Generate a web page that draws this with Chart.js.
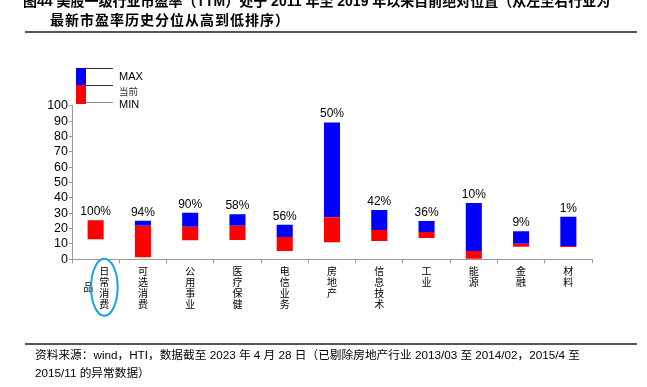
<!DOCTYPE html>
<html><head><meta charset="utf-8">
<script src="https://cdn.jsdelivr.net/npm/chart.js@4.4.0/dist/chart.umd.min.js"></script>
<style>
html,body{margin:0;padding:0;background:#fff;}
#wrap{position:relative;width:647px;height:387px;overflow:hidden;background:#fff;}
canvas{position:absolute;left:0;top:0;}
.t{position:absolute;white-space:nowrap;font-family:"Liberation Sans","Noto Sans CJK SC",sans-serif;color:#000;}
.rule{position:absolute;left:25px;width:612px;height:2px;background:#555;}
</style></head><body>
<div id="wrap">
<canvas id="c" width="647" height="387"></canvas>
<div class="t" style="left:23px;top:-8px;font-size:14px;font-weight:bold;line-height:19px;">图44 美股一级行业市盈率（TTM）处于 2011 年至 2019 年以来目前绝对位置（从左至右行业为</div>
<div class="t" style="left:50px;top:11px;font-size:14px;font-weight:bold;line-height:19px;letter-spacing:1px;">最新市盈率历史分位从高到低排序）</div>
<div class="rule" style="top:31px;"></div>
<div class="rule" style="top:343px;"></div>
<div class="t" style="left:35px;top:346px;font-size:11.7px;line-height:18px;">资料来源：wind，HTI，数据截至 2023 年 4 月 28 日（已剔除房地产行业 2013/03 至 2014/02，2015/4 至<br>2015/11 的异常数据）</div>
</div>
<script>
const categories = ['日常消费品','可选消费','公用事业','医疗保健','电信业务','房地产','信息技术','工业','能源','金融','材料'];
const percentileLabels = ['100%','94%','90%','58%','56%','50%','42%','36%','10%','9%','1%'];
const minValues = [13.0, 1.3, 12.4, 12.6, 5.4, 11.1, 11.9, 13.9, 0.3, 8.2, 8.0];
const currentValues = [25.4, 21.9, 21.2, 21.9, 14.5, 27.3, 19.1, 17.8, 5.4, 10.2, 8.7];
const maxValues = [25.4, 25.1, 30.3, 29.3, 22.5, 89.1, 32.1, 24.9, 36.7, 18.2, 27.7];
const yAxisMin = 0, yAxisMax = 100, yAxisStep = 10;
const legendLabels = ['MAX','当前','MIN'];

const overlay = {
  id: 'overlay',
  afterDraw(chart) {
    const ctx = chart.ctx;
    const x = chart.scales.x, y = chart.scales.y;
    ctx.save();
    // percentile labels above bars
    ctx.fillStyle = '#000';
    ctx.font = '12px "Liberation Sans"';
    ctx.textAlign = 'center';
    ctx.textBaseline = 'alphabetic';
    percentileLabels.forEach((t, i) => {
      ctx.fillText(t, x.getPixelForValue(i), y.getPixelForValue(maxValues[i]) - 5);
    });
    // vertical category labels
    ctx.font = '10px "Noto Sans CJK SC"';
    ctx.textBaseline = 'middle';
    const lh = 11.2, top0 = y.bottom + 11.5;
    categories.forEach((name, i) => {
      const cx = x.getPixelForValue(i);
      let chars = Array.from(name);
      let extra = null, colX = cx;
      if (chars.length > 4) { extra = chars.slice(4); chars = chars.slice(0, 4); colX = cx + 8.7; }
      chars.forEach((ch, k) => ctx.fillText(ch, colX, top0 + k * lh));
      if (extra) extra.forEach((ch, k) => ctx.fillText(ch, cx - 7.3, top0 + 1.45 * lh + k * lh));
      if (i === 0) {
        ctx.beginPath();
        ctx.strokeStyle = '#1aa3e2';
        ctx.lineWidth = 2;
        ctx.ellipse(colX, y.bottom + 28, 13.3, 28.5, 0, 0, Math.PI * 2);
        ctx.stroke();
      }
    });
    // legend
    ctx.fillStyle = '#0000ff';
    ctx.fillRect(76, 68, 10, 17);
    ctx.fillStyle = '#ff0000';
    ctx.fillRect(76, 85, 10, 19);
    ctx.lineWidth = 1;
    [[68.5, '#333'], [85.5, '#333'], [102.5, '#888']].forEach(([ly, col]) => {
      ctx.strokeStyle = col;
      ctx.beginPath(); ctx.moveTo(86, ly); ctx.lineTo(113, ly); ctx.stroke();
    });
    ctx.fillStyle = '#000';
    ctx.textAlign = 'left';
    ctx.font = '11px "Liberation Sans"';
    ctx.fillText(legendLabels[0], 119, 77);
    ctx.font = '9.5px "Noto Sans CJK SC"';
    ctx.fillStyle = '#333';
    ctx.fillText(legendLabels[1], 119, 91.5);
    ctx.fillStyle = '#000';
    ctx.font = '11px "Liberation Sans"';
    ctx.fillText(legendLabels[2], 119, 105);
    ctx.restore();
  }
};

new Chart(document.getElementById('c'), {
  type: 'bar',
  data: {
    labels: categories,
    datasets: [
      {
        label: '当前-MIN',
        data: minValues.map((v, i) => [v, currentValues[i]]),
        backgroundColor: '#ff0000',
        grouped: false,
        barPercentage: 0.34,
        categoryPercentage: 1,
        borderWidth: 0
      },
      {
        label: 'MAX-当前',
        data: currentValues.map((v, i) => [v, maxValues[i]]),
        backgroundColor: '#0000ff',
        grouped: false,
        barPercentage: 0.34,
        categoryPercentage: 1,
        borderWidth: 0
      }
    ]
  },
  options: {
    responsive: false,
    animation: false,
    devicePixelRatio: 1,
    layout: { padding: { top: 105.7, right: 55, left: 0, bottom: 0 } },
    plugins: { legend: { display: false }, tooltip: { enabled: false } },
    scales: {
      x: {
        grid: { drawOnChartArea: false, tickLength: 4, color: '#999', offset: true },
        border: { color: '#999' },
        ticks: { callback: () => '', font: { size: 1 } },
        afterFit: (s) => { s.height = 387 - 259.3; }
      },
      y: {
        min: yAxisMin, max: yAxisMax,
        grid: { drawOnChartArea: false, tickLength: 3, color: '#999' },
        border: { color: '#999' },
        ticks: { stepSize: yAxisStep, autoSkip: false, color: '#000', padding: 1, font: { family: 'Liberation Sans', size: 12.5 } },
        afterFit: (s) => { s.width = 72; }
      }
    }
  },
  plugins: [overlay]
});
</script>
</body></html>
